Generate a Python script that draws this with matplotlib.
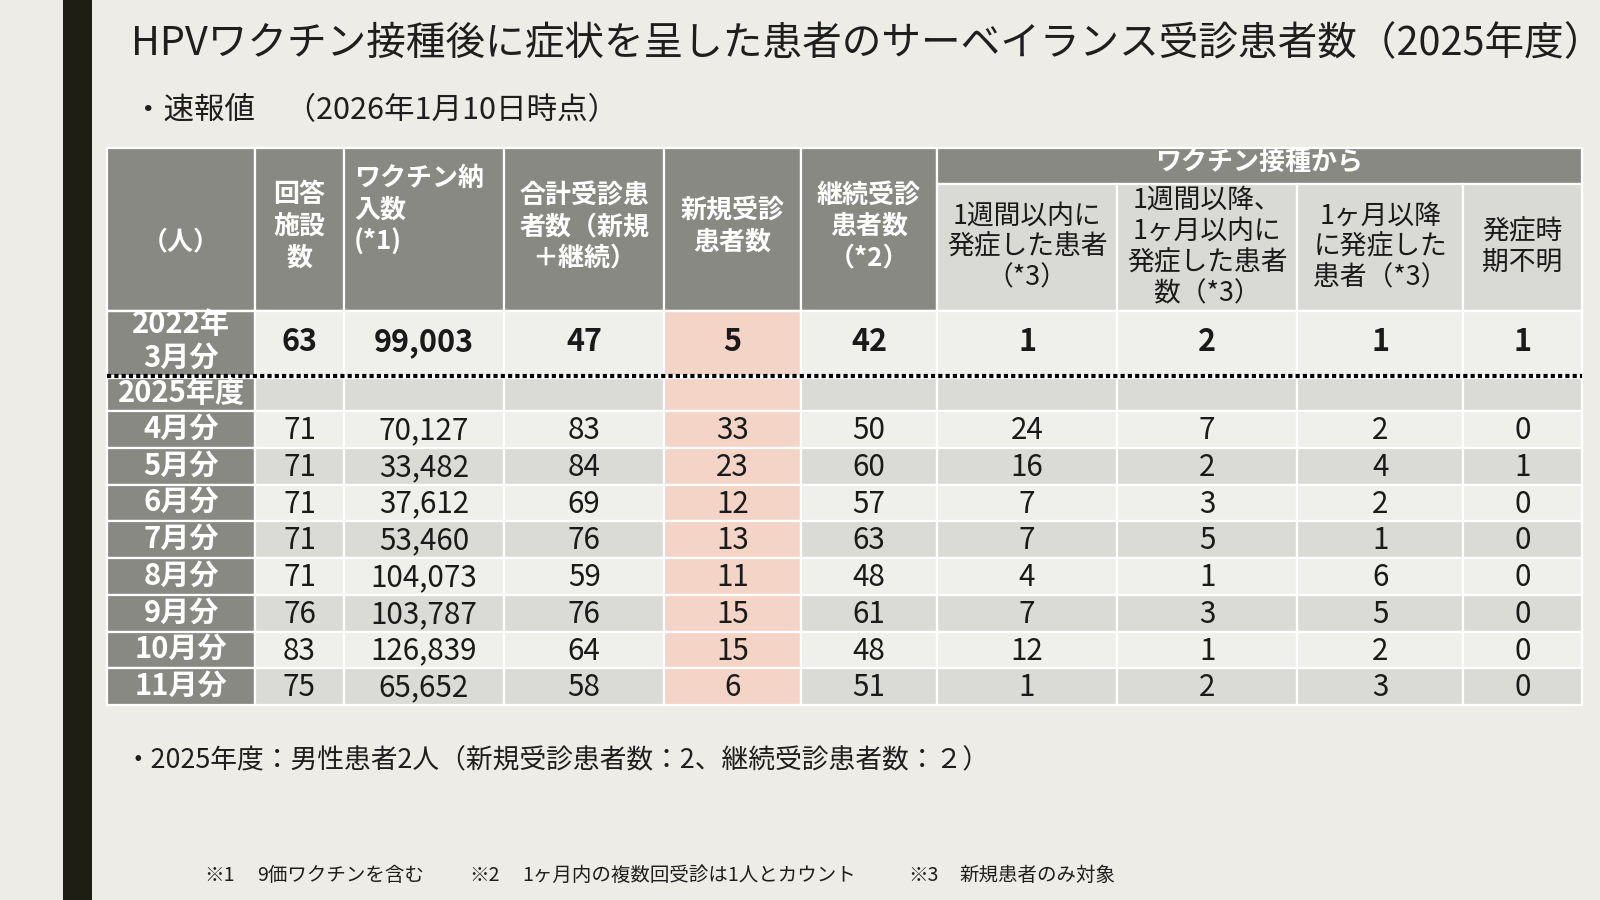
import matplotlib
matplotlib.use("Agg")
import matplotlib.pyplot as plt
from matplotlib.patches import Rectangle

plt.rcParams['font.family'] = ['Noto Sans CJK JP', 'DejaVu Sans']

# ---------------- data ----------------
title = "HPVワクチン接種後に症状を呈した患者のサーベイランス受診患者数（2025年度）"
subtitle = "・速報値　（2026年1月10日時点）"

col_headers = ["（人）", "回答\n施設\n数", "ワクチン納\n入数\n(*1)", "合計受診患\n者数（新規\n＋継続）",
               "新規受診\n患者数", "継続受診\n患者数\n（*2）"]
group_header = "ワクチン接種から"
sub_headers = ["1週間以内に\n発症した患者\n（*3）", "1週間以降、\n1ヶ月以内に\n発症した患者\n数（*3）",
               "1ヶ月以降\nに発症した\n患者（*3）", "発症時\n期不明"]

ref_label = "2022年\n3月分"
ref_values = [63, 99003, 47, 5, 42, 1, 2, 1, 1]

year_label = "2025年度"
months = ["4月分", "5月分", "6月分", "7月分", "8月分", "9月分", "10月分", "11月分"]
facilities = [71, 71, 71, 71, 71, 76, 83, 75]
vaccine_delivered = [70127, 33482, 37612, 53460, 104073, 103787, 126839, 65652]
total_patients = [83, 84, 69, 76, 59, 76, 64, 58]
new_patients = [33, 23, 12, 13, 11, 15, 15, 6]
continuing_patients = [50, 60, 57, 63, 48, 61, 48, 51]
onset_within_week = [24, 16, 7, 7, 4, 7, 12, 1]
onset_week_to_month = [7, 2, 3, 5, 1, 3, 1, 2]
onset_after_month = [2, 4, 2, 1, 6, 5, 2, 3]
onset_unknown = [0, 1, 0, 0, 0, 0, 0, 0]

note = "・2025年度：男性患者2人（新規受診患者数：2、継続受診患者数：２）"
footnote_marks = ["※1", "※2", "※3"]
footnote_texts = ["9価ワクチンを含む", "1ヶ月内の複数回受診は1人とカウント", "新規患者のみ対象"]

# ---------------- styling ----------------
BG = "#EEECE6"
DARK = "#898984"
LIGHT = "#EFEFEC"
MID = "#DADAD7"
SUBHDR = "#D9D9D6"
PINK = "#F4D4C7"
TXT = "#1A1A1A"

W, H = 1568, 882
fig = plt.figure(figsize=(16, 9), dpi=100, facecolor=BG)
ax = fig.add_axes([0, 0, 1, 1])
ax.set_xlim(0, W)
ax.set_ylim(H, 0)
ax.axis("off")
ax.set_facecolor(BG)

# left dark bar
ax.add_patch(Rectangle((62, 0), 28, H, facecolor="#1E1E14", edgecolor="none"))

ax.text(128, 43, title, fontsize=28.5, color="#1E1E1E", ha="left", va="center")
ax.text(130, 108, subtitle, fontsize=22, color="#1E1E1E", ha="left", va="center")

col_edges = [105, 250, 337, 494, 651, 785, 918, 1095, 1271, 1434, 1550]
hdr_top, grp_bot, hdr_bot = 145, 180, 305
ref_top, ref_bot = 305, 368
yr_top, yr_bot = 370, 403
row_h = 36

def cell(x0, x1, y0, y1, color, lw=1.6):
    ax.add_patch(Rectangle((x0, y0), x1 - x0, y1 - y0, facecolor=color,
                           edgecolor="white", linewidth=lw))

def cx(i):
    return (col_edges[i] + col_edges[i + 1]) / 2

# header cells
for i in range(6):
    cell(col_edges[i], col_edges[i + 1], hdr_top, hdr_bot, DARK)
cell(col_edges[6], col_edges[10], hdr_top, grp_bot, DARK)
for i in range(6, 10):
    cell(col_edges[i], col_edges[i + 1], grp_bot, hdr_bot, SUBHDR)

hfs = 18.7
ax.text(cx(0), 237, col_headers[0], fontsize=hfs, color="white", fontweight="bold",
        ha="center", va="center")
for i in [1, 3, 4, 5]:
    ax.text(cx(i), 222, col_headers[i], fontsize=hfs, color="white", fontweight="bold",
            ha="center", va="center", linespacing=1.23, multialignment="center")
ax.text(347, 206, col_headers[2], fontsize=hfs, color="white", fontweight="bold",
        ha="left", va="center", linespacing=1.23, multialignment="left")
ax.text((col_edges[6] + col_edges[10]) / 2, 159, group_header, fontsize=hfs,
        color="white", fontweight="bold", ha="center", va="center")
for k, txt in enumerate(sub_headers):
    ax.text(cx(6 + k), 242, txt, fontsize=19.3, color=TXT, ha="center", va="center",
            linespacing=1.19, multialignment="center")

# reference (2022) row
cell(col_edges[0], col_edges[1], ref_top, ref_bot, DARK)
for i in range(1, 10):
    cell(col_edges[i], col_edges[i + 1], ref_top, ref_bot, PINK if i == 4 else LIGHT)
ax.text(cx(0), 334, ref_label, fontsize=21, color="white", fontweight="bold",
        ha="center", va="center", linespacing=1.12)
for i, v in enumerate(ref_values):
    ax.text(cx(i + 1), 335, f"{v:,}", fontsize=22, color=TXT, fontweight="bold",
            ha="center", va="center")
# re-draw header bottom white line over clipped label
ax.plot([col_edges[0], col_edges[-1]], [ref_top, ref_top], color="white", linewidth=1.6)

# 2025 year row
cell(col_edges[0], col_edges[1], yr_top, yr_bot, DARK)
for i in range(1, 10):
    cell(col_edges[i], col_edges[i + 1], yr_top, yr_bot, PINK if i == 4 else MID)
ax.text(cx(0), (yr_top + yr_bot) / 2 - 1, year_label, fontsize=21, color="white",
        fontweight="bold", ha="center", va="center")

# monthly rows
columns = [facilities, vaccine_delivered, total_patients, new_patients, continuing_patients,
           onset_within_week, onset_week_to_month, onset_after_month, onset_unknown]
for r, m in enumerate(months):
    y0 = yr_bot + r * row_h
    y1 = y0 + row_h
    base = LIGHT if r % 2 == 0 else MID
    cell(col_edges[0], col_edges[1], y0, y1, DARK)
    ax.text(cx(0), (y0 + y1) / 2 - 1, m, fontsize=21, color="white", fontweight="bold",
            ha="center", va="center")
    for i, colv in enumerate(columns):
        cell(col_edges[i + 1], col_edges[i + 2], y0, y1, PINK if i == 3 else base)
        ax.text(cx(i + 1), (y0 + y1) / 2 + 1, f"{colv[r]:,}", fontsize=21.3, color=TXT,
                ha="center", va="center")

# dotted separator
ax.plot([col_edges[0], col_edges[-1]], [368, 368], color="black", linewidth=3.0,
        linestyle=(0, (1, 0.75)), solid_capstyle="butt", dash_capstyle="butt")

# notes
ax.text(122, 746, note, fontsize=19.3, color="#1E1E1E", ha="left", va="center")
mark_x = [200, 460, 890]
text_x = [252, 512, 940]
for mx, tx, mk, ft in zip(mark_x, text_x, footnote_marks, footnote_texts):
    ax.text(mx, 858, mk, fontsize=14, color="#1E1E1E", ha="left", va="center")
    ax.text(tx, 858, ft, fontsize=14, color="#1E1E1E", ha="left", va="center")

fig.savefig("out.png", dpi=100, facecolor=BG)
